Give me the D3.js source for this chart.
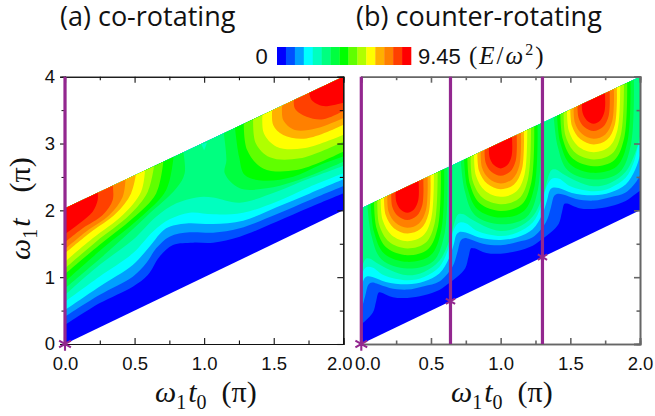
<!DOCTYPE html>
<html lang="en">

<head>
    <meta charset="utf-8">
    <script src="https://d3js.org/d3.v7.min.js"></script>
    <style>
        body { margin: 0; background: #fff; }
        svg { display: block; }
        .tick text { font-family: "Liberation Sans", Arial, sans-serif; font-size: 18.5px; fill: #111; }
        .title { font-family: "Open Sans", "Noto Sans", sans-serif; font-size: 27px; fill: #111; }
        .math { font-family: "Liberation Serif", serif; font-size: 30px; fill: #111; }
        .math .var { font-style: italic; }
        .bar-label { font-family: "Liberation Sans", Arial, sans-serif; font-size: 22px; fill: #111; }
    </style>
</head>

<body>
    <script>
        const bandColors = ['#0000ff', '#0050ff', '#00a0ff', '#00ffff', '#00ffbf', '#00ff80', '#00ff40', '#00ff00',
            '#60ff00', '#b0ff00', '#ffff00', '#ffb000', '#ff8000', '#ff4000', '#ff0000'];

        const xTicks = [0, 0.5, 1, 1.5, 2];
        const xMinorTicks = [0.25, 0.75, 1.25, 1.75];
        const yTicks = [0, 1, 2, 3, 4];
        const yMinorTicks = [0.5, 1.5, 2.5, 3.5];

        // edges of the filled parallelogram, [t0, t]
        const bottomEdge = [[0, 0], [2, 2]];
        const topEdge = [[0, 2.03], [2, 4]];

        // (a) co-rotating. contours as [t0, t], everything above a contour gets the next colour
        const coSpan = [
            [[0, .284], [.247, .608], [.487, .858], [.595, 1.032], [.679, 1.307], [.776, 1.481], [.92, 1.516], [1.064, 1.516], [1.256, 1.606], [1.52, 1.83], [1.76, 2.045], [2.012, 2.264]],
            [[0, .409], [.247, .733], [.487, 1.007], [.583, 1.207], [.655, 1.431], [.751, 1.606], [.896, 1.671], [1.064, 1.666], [1.256, 1.731], [1.52, 1.94], [1.76, 2.155], [2.012, 2.374]],
            [[0, .509], [.247, .858], [.487, 1.182], [.607, 1.456], [.727, 1.731], [.872, 1.805], [1.064, 1.795], [1.28, 1.845], [1.52, 2.045], [1.76, 2.254], [2.012, 2.474]],
            [[0, .633], [.247, 1.007], [.487, 1.357], [.631, 1.681], [.751, 1.865], [.896, 1.965], [1.064, 1.94], [1.28, 1.965], [1.52, 2.13], [1.76, 2.354], [2.012, 2.564]],
            [[0, .733], [.247, 1.182], [.487, 1.556], [.655, 1.905], [.8, 2.105], [.944, 2.194], [1.064, 2.194], [1.256, 2.115], [1.52, 2.279], [1.76, 2.479], [2.012, 2.673]]
        ];
        // colour index 6 up to 14, blob in the top left corner
        const coLeft = [
            [[0, .833], [.295, 1.357], [.583, 1.905], [.8, 2.329], [.86, 2.554], [.848, 2.903]],
            [[0, .933], [.271, 1.431], [.535, 1.88], [.727, 2.304], [.78, 2.803]],
            [[0, 1.047], [.247, 1.481], [.487, 1.88], [.655, 2.254], [.708, 2.753]],
            [[0, 1.132], [.223, 1.531], [.463, 1.93], [.595, 2.279], [.643, 2.703]],
            [[0, 1.232], [.199, 1.581], [.415, 1.93], [.547, 2.279], [.576, 2.628]],
            [[0, 1.357], [.175, 1.656], [.367, 1.955], [.475, 2.254], [.511, 2.554]],
            [[0, 1.421], [.151, 1.681], [.319, 1.93], [.415, 2.204], [.435, 2.479]],
            [[0, 1.521], [.127, 1.731], [.271, 1.93], [.343, 2.155], [.343, 2.379]],
            [[0, 1.645], [.103, 1.805], [.199, 1.98], [.235, 2.155], [.235, 2.28]]
        ];
        // same colours, blob in the top right corner
        const coRight = [
            [[1.14, 3.177], [1.16, 2.753], [1.148, 2.554], [1.256, 2.329], [1.448, 2.329], [1.64, 2.429], [1.832, 2.579], [2.012, 2.738]],
            [[1.222, 3.227], [1.251, 2.803], [1.292, 2.529], [1.424, 2.444], [1.64, 2.504], [1.832, 2.678], [2.012, 2.813]],
            [[1.285, 3.287], [1.309, 2.903], [1.424, 2.628], [1.664, 2.603], [2.012, 2.893]],
            [[1.352, 3.362], [1.371, 3.003], [1.472, 2.793], [1.688, 2.778], [2.012, 3.042]],
            [[1.419, 3.426], [1.429, 3.152], [1.52, 2.953], [1.712, 2.928], [2.012, 3.142]],
            [[1.489, 3.501], [1.496, 3.277], [1.568, 3.127], [1.736, 3.077], [2.012, 3.292]],
            [[1.561, 3.576], [1.568, 3.352], [1.652, 3.202], [1.808, 3.227], [2.012, 3.392]],
            [[1.645, 3.676], [1.652, 3.526], [1.736, 3.401], [1.856, 3.362], [2.012, 3.501]],
            [[1.753, 3.8], [1.772, 3.651], [1.856, 3.561], [2.012, 3.62]]
        ];
        const coNotch = [[.98, 2.99], [1.0, 2.9], [1.02, 3.01]];

        // (b) counter-rotating repeats, so one period is read off and placed at each arch
        // centre of each arch on the top edge, plus one period off each side for the wave ends
        const archCentres = [[.33, 2.354], [1, 3.017], [1.667, 3.686]];
        const waveCentres = [[-.333, 1.69], [.33, 2.354], [1, 3.017], [1.667, 3.686], [2.333, 4.352]];
        // offsets from the arch centre
        const counterWave = [
            [[-.19, -1.585], [-.103, -1.655], [0, -1.665], [.12, -1.625], [.23, -1.545], [.306, -1.435], [.361, -1.345], [.416, -1.22], [.44, -1.045], [.458, -.92]],
            [[-.22, -1.45], [-.127, -1.515], [0, -1.54], [.12, -1.49], [.23, -1.42], [.325, -1.195], [.361, -.97], [.385, -.8], [.41, -.77]],
            [[-.25, -1.35], [-.155, -1.425], [0, -1.46], [.12, -1.42], [.23, -1.3], [.299, -1.075], [.335, -.85], [.352, -.72], [.372, -.68]],
            [[-.246, -1.212], [-.167, -1.325], [0, -1.4], [.12, -1.35], [.23, -1.2], [.287, -.975], [.323, -.7], [.354, -.57], [.378, -.535]],
            [[-.265, -1.077], [-.222, -1.137], [-.12, -1.25], [0, -1.325], [.12, -1.275], [.23, -1.11], [.299, -.825], [.325, -.645], [.349, -.47], [.368, -.41]]
        ];
        const counterArch = [
            [[-.287, -.25], [-.258, -.725], [-.184, -1.09], [0, -1.225], [.184, -1.12], [.268, -.7], [.289, .3]],
            [[-.263, -.225], [-.239, -.675], [-.167, -1], [0, -1.125], [.167, -1.025], [.244, -.65], [.265, .275]],
            [[-.239, -.2], [-.22, -.625], [-.148, -.915], [0, -1.025], [.148, -.935], [.22, -.6], [.241, .25]],
            [[-.215, -.175], [-.201, -.575], [-.131, -.825], [0, -.925], [.131, -.84], [.196, -.55], [.218, .225]],
            [[-.191, -.15], [-.177, -.5], [-.112, -.725], [0, -.815], [.112, -.735], [.172, -.475], [.191, .2]],
            [[-.167, -.125], [-.155, -.425], [-.096, -.62], [0, -.7], [.096, -.63], [.153, -.4], [.167, .18]],
            [[-.143, -.1], [-.134, -.375], [-.084, -.54], [0, -.615], [.084, -.55], [.134, -.35], [.146, .16]],
            [[-.115, -.075], [-.108, -.3], [-.067, -.44], [0, -.5], [.067, -.44], [.108, -.275], [.115, .13]],
            [[-.084, -.025], [-.079, -.225], [-.048, -.34], [0, -.39], [.048, -.34], [.079, -.2], [.081, .1]]
        ];

        // vertical purple lines with a star where each meets the bottom edge
        const coLines = [0];
        const counterLines = [0, .64, 1.3];

        const width = 655;
        const height = 416;
        const plotTop = 76.7;
        const plotBottom = 344;

        const svg = d3.select('body').append('svg')
            .attr('width', width)
            .attr('height', height);

        function drawPanel(cfg) {
            const { id, left, right, regions, lines, starSizes, frame, frameWidth } = cfg;
            const xScale = d3.scaleLinear().domain([0, 2]).range([left, right]);
            const yScale = d3.scaleLinear().domain([0, 4]).range([plotBottom, plotTop]);

            const line = d3.line()
                .x(d => xScale(d[0]))
                .y(d => yScale(d[1]))
                .curve(d3.curveCatmullRom.alpha(0.5));

            // contour, then up over the plot and back, so the area above the contour is filled
            const regionPath = (pts) => {
                const first = pts[0];
                const last = pts[pts.length - 1];
                return line(pts) + 'L' + xScale(last[0]) + ',' + yScale(5) + 'L' + xScale(first[0]) + ',' + yScale(5) + 'Z';
            };

            const edge = bottomEdge.concat(topEdge.slice().reverse());
            svg.append('clipPath').attr('id', id)
                .append('polygon')
                .attr('points', edge.map(d => xScale(d[0]) + ',' + yScale(d[1])).join(' '));

            const plot = svg.append('g').attr('clip-path', 'url(#' + id + ')');

            plot.append('rect')
                .attr('x', left).attr('y', plotTop)
                .attr('width', right - left).attr('height', plotBottom - plotTop)
                .attr('fill', bandColors[0]);

            plot.selectAll('path')
                .data(regions)
                .enter()
                .append('path')
                .attr('d', d => d.closed ? 'M' + d.pts.map(p => xScale(p[0]) + ',' + yScale(p[1])).join('L') + 'Z' : regionPath(d.pts))
                .attr('fill', d => bandColors[d.band]);

            const sides = [
                { axis: d3.axisBottom(xScale), at: 'translate(0,' + plotBottom + ')', major: xTicks, minor: xMinorTicks, labels: true },
                { axis: d3.axisTop(xScale), at: 'translate(0,' + plotTop + ')', major: xTicks, minor: xMinorTicks, labels: false },
                { axis: d3.axisRight(yScale), at: 'translate(' + right + ',0)', major: yTicks, minor: yMinorTicks, labels: false }
            ];
            sides.forEach(s => {
                svg.append('g').attr('transform', s.at)
                    .call(s.axis.tickValues(s.minor).tickSize(-3.5).tickFormat(''))
                    .call(g => g.selectAll('line,path').attr('stroke', frame).attr('stroke-width', frameWidth));
                const g = svg.append('g').attr('transform', s.at)
                    .call(s.axis.tickValues(s.major).tickSize(-6).tickPadding(13).tickFormat(s.labels ? d3.format('.1f') : ''));
                g.selectAll('line,path').attr('stroke', frame).attr('stroke-width', frameWidth);
                if (s.labels) {
                    // the labels at the shared corner are pushed apart
                    g.selectAll('text').attr('dx', d => d === cfg.nudgeTick ? cfg.nudge : 0);
                }
            });

            if (cfg.yLabels) {
                // only panel (a) has its left axis, ticks on the outside
                const yAxisMinor = d3.axisLeft(yScale).tickValues(yMinorTicks).tickSize(3.5).tickFormat('');
                svg.append('g').attr('transform', 'translate(' + left + ',0)').call(yAxisMinor)
                    .call(g => g.selectAll('line,path').attr('stroke', frame));
                const yAxis = d3.axisLeft(yScale).tickValues(yTicks).tickSize(5).tickPadding(5).tickFormat(d3.format('d'));
                svg.append('g').attr('transform', 'translate(' + left + ',0)').call(yAxis)
                    .call(g => g.selectAll('line,path').attr('stroke', frame).attr('stroke-width', frameWidth));
            }

            const purple = '#93278f';
            svg.selectAll('.v-' + id)
                .data(lines)
                .enter()
                .append('line')
                .attr('class', 'v-' + id)
                .attr('x1', d => xScale(d)).attr('x2', d => xScale(d))
                .attr('y1', plotTop).attr('y2', plotBottom)
                .attr('stroke', purple)
                .attr('stroke-width', 3.2);

            svg.selectAll('.star-' + id)
                .data(lines)
                .enter()
                .append('path')
                .attr('class', 'star-' + id)
                .attr('d', (d, i) => d3.symbol(d3.symbolAsterisk, starSizes[i])())
                .attr('transform', d => 'translate(' + xScale(d) + ',' + yScale(d) + ')')
                .attr('fill', 'none')
                .attr('stroke', purple)
                .attr('stroke-width', 2.1);
        }

        const coRegions = [];
        coSpan.forEach((pts, i) => coRegions.push({ band: i + 1, pts: pts }));
        coLeft.forEach((pts, i) => coRegions.push({ band: i + 6, pts: pts }));
        coRight.forEach((pts, i) => coRegions.push({ band: i + 6, pts: pts }));
        coRegions.push({ band: 4, pts: coNotch, closed: true });

        const counterRegions = [];
        counterWave.forEach((pts, i) => {
            counterRegions.push({ band: i + 1, pts: waveCentres.flatMap(c => pts.map(p => [c[0] + p[0], c[1] + p[1]])) });
        });
        counterArch.forEach((pts, i) => {
            archCentres.forEach(c => {
                counterRegions.push({ band: i + 6, pts: pts.map(p => [c[0] + p[0], c[1] + p[1]]) });
            });
        });

        drawPanel({
            id: 'co', left: 65, right: 343.3, regions: coRegions, lines: coLines, starSizes: [130],
            frame: '#111', frameWidth: 1.1, yLabels: true, nudgeTick: 2, nudge: -4
        });
        drawPanel({
            id: 'counter', left: 361.3, right: 640, regions: counterRegions, lines: counterLines, starSizes: [130, 80, 80],
            frame: '#666', frameWidth: 1.6, yLabels: false, nudgeTick: 0, nudge: 6
        });

        // titles
        svg.append('text').attr('class', 'title').attr('x', 60).attr('y', 26).text('(a) co-rotating');
        svg.append('text').attr('class', 'title').attr('x', 356).attr('y', 26).text('(b) counter-rotating');

        // colour bar
        const barScale = d3.scaleBand().domain(d3.range(bandColors.length)).range([277, 411]);
        svg.selectAll('.bar')
            .data(bandColors)
            .enter()
            .append('rect')
            .attr('class', 'bar')
            .attr('x', (d, i) => barScale(i))
            .attr('y', 47)
            .attr('width', barScale.bandwidth() + 0.3)
            .attr('height', 18)
            .attr('fill', d => d);
        svg.append('text').attr('class', 'bar-label').attr('x', 255.5).attr('y', 64).text('0');
        svg.append('text').attr('class', 'bar-label').attr('x', 418).attr('y', 64).text('9.45');

        const barUnit = svg.append('text').attr('class', 'math').attr('x', 469).attr('y', 64)
            .style('font-size', '25px').style('letter-spacing', '2px');
        barUnit.append('tspan').text('(');
        barUnit.append('tspan').attr('class', 'var').text('E');
        barUnit.append('tspan').text('/');
        barUnit.append('tspan').attr('class', 'var').text('ω');
        barUnit.append('tspan').attr('dy', -9).style('font-size', '16px').text('2');
        barUnit.append('tspan').attr('dy', 9).text(')');

        // axis titles
        function omegaLabel(text, sub, gap) {
            text.append('tspan').attr('class', 'var').text('ω');
            text.append('tspan').attr('dy', 7).style('font-size', '20px').text('1');
            text.append('tspan').attr('class', 'var').attr('dy', -7).attr('dx', 2).text('t');
            if (sub) text.append('tspan').attr('dy', 7).style('font-size', '20px').text(sub);
            text.append('tspan').attr('dy', sub ? -7 : 0).attr('dx', gap).text('(π)');
        }
        omegaLabel(svg.append('text').attr('class', 'math').attr('x', 155).attr('y', 402), '0', 15);
        omegaLabel(svg.append('text').attr('class', 'math').attr('x', 451).attr('y', 402), '0', 15);
        omegaLabel(svg.append('text').attr('class', 'math').attr('transform', 'translate(30,260) rotate(-90)'), null, 26);
    </script>
</body>

</html>
